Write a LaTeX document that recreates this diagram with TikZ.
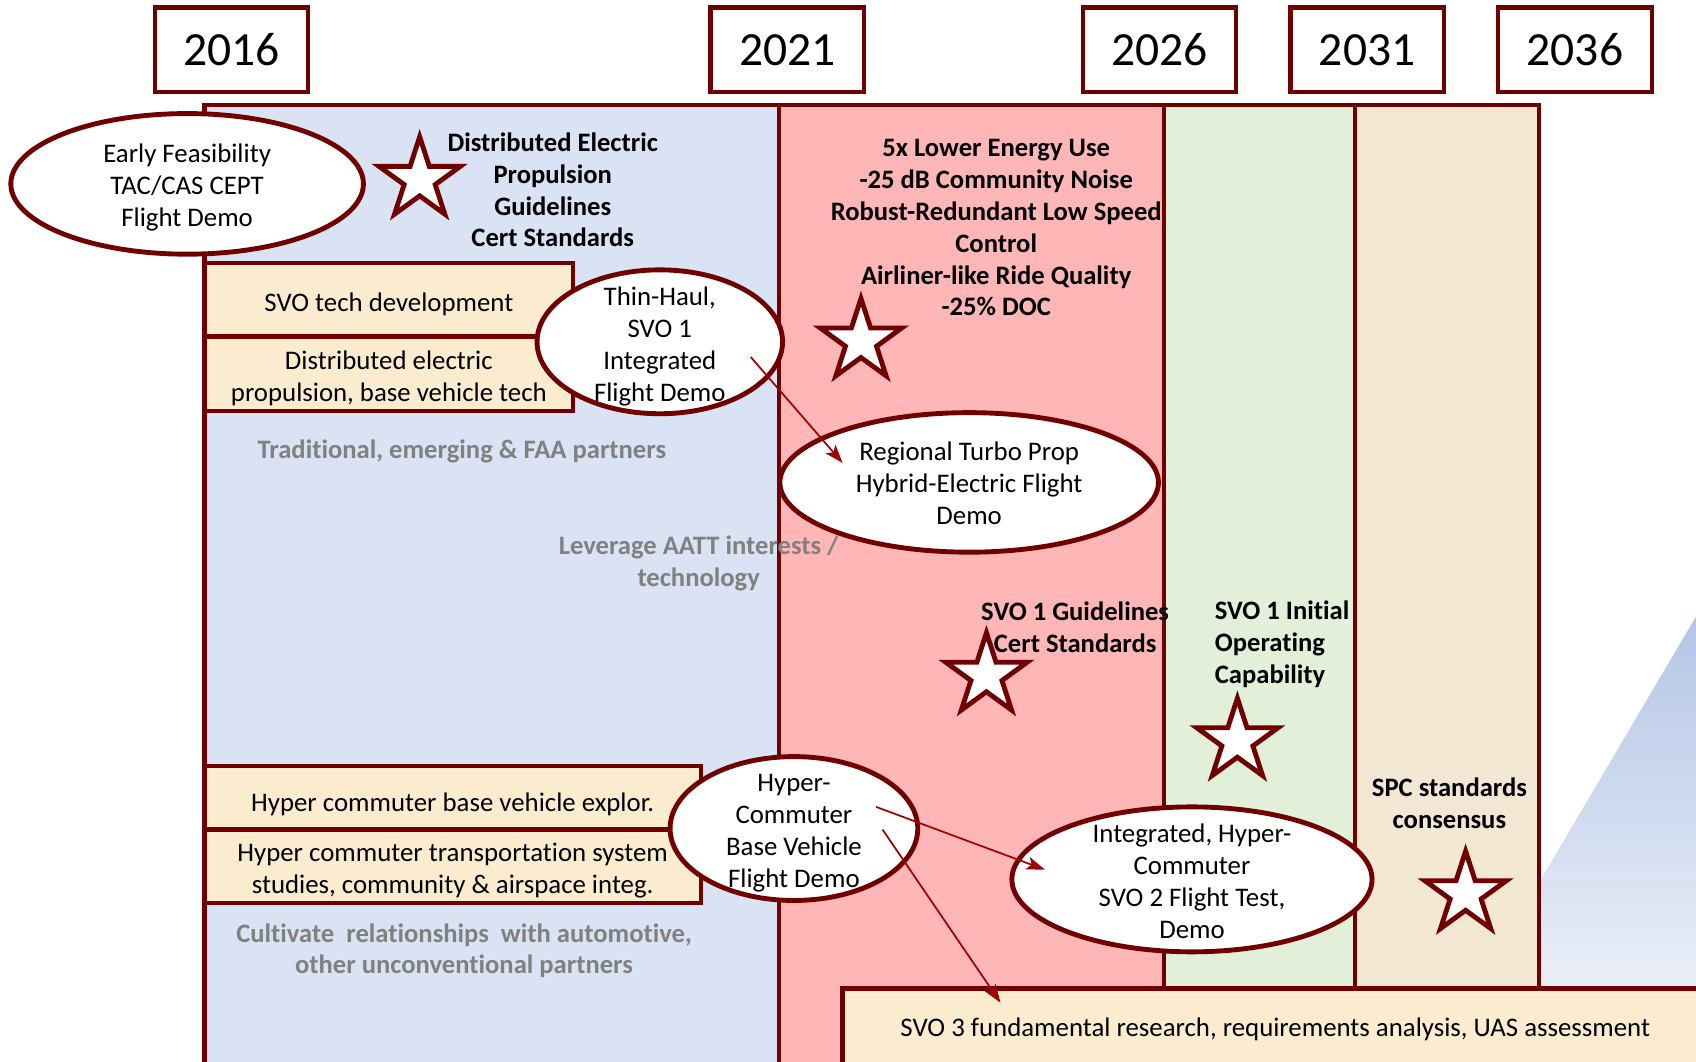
\documentclass[tikz,border=0pt]{standalone}
\usepackage{fontspec}
\setmainfont{Carlito}[Ligatures=NoCommon]
\usetikzlibrary{shapes.geometric,arrows.meta,calc}
\definecolor{dred}{RGB}{112,0,0}
\definecolor{ared}{RGB}{160,0,0}
\definecolor{cblue}{RGB}{218,227,243}
\definecolor{cpink}{RGB}{255,182,182}
\definecolor{cgreen}{RGB}{226,239,217}
\definecolor{cbeige}{RGB}{242,231,211}
\definecolor{cream}{RGB}{252,236,207}
\definecolor{cgray}{RGB}{128,128,128}
\definecolor{tritop}{RGB}{180,198,230}
\definecolor{tribot}{RGB}{234,238,248}
\newcommand{\rmbody}{\fontsize{24.8}{29.5}\selectfont}
\newcommand{\bfbody}{\fontsize{24.6}{29.5}\selectfont\bfseries}
\begin{document}
\begin{tikzpicture}[x=1pt,y=-1pt,
 yearbox/.style={draw=dred,line width=4pt,fill=white,minimum width=142pt,minimum height=78pt,inner sep=0pt,font=\fontsize{44}{50}\selectfont},
 column/.style={draw=dred,line width=4pt},
 crbox/.style={draw=dred,line width=4pt,fill=cream,inner sep=0pt,align=center,font=\rmbody},
 ell/.style={ellipse,draw=dred,line width=4.5pt,fill=white,inner sep=0pt},
 txt/.style={align=center,inner sep=0pt,font=\rmbody},
 btxt/.style={align=center,inner sep=0pt,font=\bfbody},
 gtxt/.style={align=center,inner sep=0pt,font=\bfbody,text=cgray},
 starbox/.style={star,star points=5,star point ratio=2.618,draw=dred,line width=4.5pt,fill=white,minimum size=79pt,inner sep=0pt},
 arr/.style={draw=ared,line width=1.6pt,-{Stealth[length=17pt,width=12pt,inset=4pt]}}
]
\useasboundingbox (0,0) rectangle (1568,981);
\clip (0,0) rectangle (1568,981);

% triangle gradient
\shade[top color=tritop,bottom color=tribot] (1424,814) -- (1568,570) -- (1568,914) -- (1424,914) -- cycle;

% columns
\path[column,fill=cblue] (189,97) rectangle (720,1010);
\path[column,fill=cpink] (720,97) rectangle (1076,1010);
\path[column,fill=cgreen] (1076,97) rectangle (1253,1010);
\path[column,fill=cbeige] (1253,97) rectangle (1423,1010);

% year boxes
\node[yearbox] (y16) at (214,46) {2016};
\node[yearbox] (y21) at (728,46) {2021};
\node[yearbox] (y26) at (1072,46) {2026};
\node[yearbox] (y31) at (1264,46) {2031};
\node[yearbox] (y36) at (1456,46) {2036};

% bottom box
\node[crbox,minimum width=800pt,minimum height=72pt] (svo3) at (1179,950) {};
\node[txt] (svo3t) at (1179,952) {SVO 3 fundamental research, requirements analysis, UAS assessment};

% cream boxes
\node[crbox,minimum width=341pt,minimum height=68pt] (svo) at (359.5,277) {};
\node[txt] at (359.5,281) {SVO tech development};
\node[crbox,minimum width=341pt,minimum height=69pt] (dep) at (359.5,345.5) {};
\node[txt] at (359.5,350) {Distributed electric\\propulsion, base vehicle tech};
\node[crbox,minimum width=459pt,minimum height=59pt] (hyp1) at (418.5,737.5) {};
\node[txt] at (418.5,744) {Hyper commuter base vehicle explor.};
\node[crbox,minimum width=459pt,minimum height=68pt] (hyp2) at (418.5,801) {};
\node[txt] at (418.5,805) {Hyper commuter transportation system\\studies, community \& airspace integ.};

% ellipses
\node[ell,minimum width=326pt,minimum height=130pt] (early) at (173,170) {};
\node[txt] at (173,173) {Early Feasibility\\TAC/CAS CEPT\\Flight Demo};
\node[ell,minimum width=227pt,minimum height=133pt] (thin) at (610,316) {};
\node[txt] at (610,320.5) {Thin-Haul,\\SVO 1\\Integrated\\Flight Demo};
\node[ell,minimum width=350pt,minimum height=129pt] (reg) at (896,446) {};
\node[txt] at (896,446.5) {Regional Turbo Prop\\Hybrid-Electric Flight\\Demo};
\node[ell,minimum width=229pt,minimum height=133pt] (hyper) at (734,766) {};
\node[txt] at (734,770) {Hyper-\\Commuter\\Base Vehicle\\Flight Demo};
\node[ell,minimum width=333pt,minimum height=134pt] (integ) at (1102,813) {};
\node[txt] at (1102,814.5) {Integrated, Hyper-\\Commuter\\SVO 2 Flight Test,\\Demo};

% stars
\node[starbox] (s1) at (388,166) {};
\node[starbox] (s2) at (796,315.5) {};
\node[starbox] (s3) at (912,624.5) {};
\node[starbox] (s4) at (1144,685) {};
\node[starbox] (s5) at (1355,826.5) {};

% bold texts
\node[btxt] (t1) at (511,175.5) {Distributed Electric\\Propulsion\\Guidelines\\Cert Standards};
\node[btxt] (t2) at (921,210.5) {5x Lower Energy Use\\-25 dB Community Noise\\Robust-Redundant Low Speed\\Control\\Airliner-like Ride Quality\\-25\% DOC};
\node[btxt] (t3) at (994,579.5) {SVO 1 Guidelines\\Cert Standards};
\node[btxt,align=left,anchor=west] (t4) at (1123,596) {SVO 1 Initial\\Operating\\Capability};
\node[btxt] (t5) at (1340,743) {SPC standards\\consensus};

% gray texts
\node[gtxt] (g1) at (427,417) {Traditional, emerging \& FAA partners};
\node[gtxt] (g2) at (646,521) {Leverage AATT interests /\\technology};
\node[gtxt] (g3) at (429,879) {Cultivate~ relationships~ with automotive,\\other unconventional partners};

% arrows
\draw[arr] ($(thin.center)+(84,14)$) -- ($(reg.center)+(-117,-18)$);
\draw[arr] ($(hyper.center)+(76,-20)$) -- ($(integ.center)+(-136,-9)$);
\draw[arr] ($(hyper.center)+(82,1)$) -- ($(svo3.center)+(-254,-23)$);
\end{tikzpicture}
\end{document}
